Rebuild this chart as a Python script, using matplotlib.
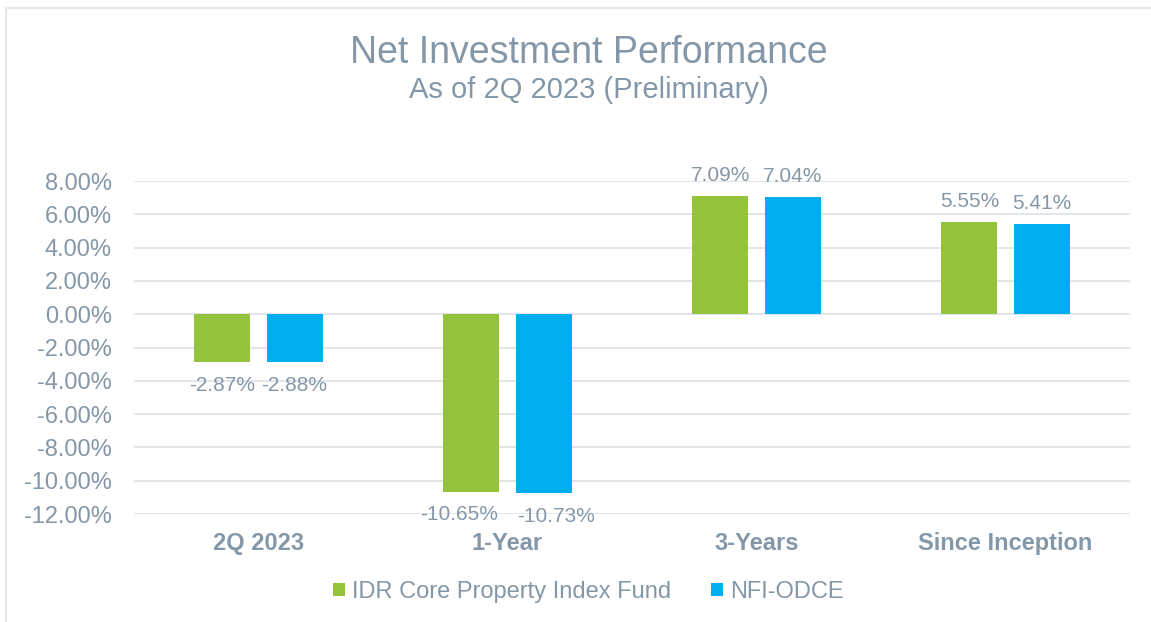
import matplotlib.pyplot as plt
import numpy as np

categories = ['2Q 2023', '1-Year', '3-Years', 'Since Inception']
idr_fund = [-2.87, -10.65, 7.09, 5.55]
nfi_odce = [-2.88, -10.73, 7.04, 5.41]
series_names = ['IDR Core Property Index Fund', 'NFI-ODCE']
yticks = [-12, -10, -8, -6, -4, -2, 0, 2, 4, 6, 8]

txt = '#8497a8'
green = '#95c23d'
blue = '#00aeef'

plt.rcParams['font.family'] = ['Liberation Sans', 'DejaVu Sans']

fig = plt.figure(figsize=(11.51, 6.22), dpi=100)
ax = fig.add_axes([0.1164, 0.1736, 0.8654, 0.5354])

x = np.arange(len(categories))
w = 0.225
off = 0.145
b1 = ax.bar(x - off, idr_fund, w, color=green, label=series_names[0], zorder=3)
b2 = ax.bar(x + off, nfi_odce, w, color=blue, label=series_names[1], zorder=3)

# value labels above / below bars; deep negatives get nudged apart like excel does
for bars, vals, side in [(b1, idr_fund, -1), (b2, nfi_odce, 1)]:
    for rect, v in zip(bars, vals):
        cx = rect.get_x() + rect.get_width() / 2
        if v >= 0:
            ax.annotate(f'{v:.2f}%', (cx, v), xytext=(0, 8), textcoords='offset points',
                        ha='center', va='bottom', color=txt, fontsize=15)
        else:
            dx = side * 9 if v < -10 else 0
            ax.annotate(f'{v:.2f}%', (cx, v), xytext=(dx, -10), textcoords='offset points',
                        ha='center', va='top', color=txt, fontsize=15)

ax.set_xlim(-0.5, len(categories) - 0.5)
ax.set_ylim(-12, 8)
ax.set_yticks(yticks)
ax.set_yticklabels([f'{t:.2f}%' for t in yticks], color=txt, fontsize=17)
ax.set_xticks(x)
ax.set_xticklabels(categories, color=txt, fontsize=17, fontweight='bold')
ax.tick_params(axis='both', length=0)
ax.tick_params(axis='y', pad=16)
ax.tick_params(axis='x', pad=13)
ax.grid(axis='y', color='#dfe3e8', linewidth=1.3, zorder=0)
for s in ax.spines.values():
    s.set_visible(False)

fig.text(0.5115, 0.915, 'Net Investment Performance', ha='center', va='center',
         color=txt, fontsize=27)
fig.text(0.5115, 0.856, 'As of 2Q 2023 (Preliminary)', ha='center', va='center',
         color=txt, fontsize=21)

fig.legend(loc='center', bbox_to_anchor=(0.511, 0.048), ncol=2, frameon=False,
           fontsize=17, labelcolor=txt, handlelength=0.5, handleheight=0.5,
           handletextpad=0.3, columnspacing=1.7)

# light outer frame
fig.add_artist(plt.Line2D([0.005, 0.005], [0, 0.987], color='#e3e6ea', linewidth=1.5))
fig.add_artist(plt.Line2D([0.005, 1], [0.987, 0.987], color='#e3e6ea', linewidth=1.5))

plt.savefig('out.png')
